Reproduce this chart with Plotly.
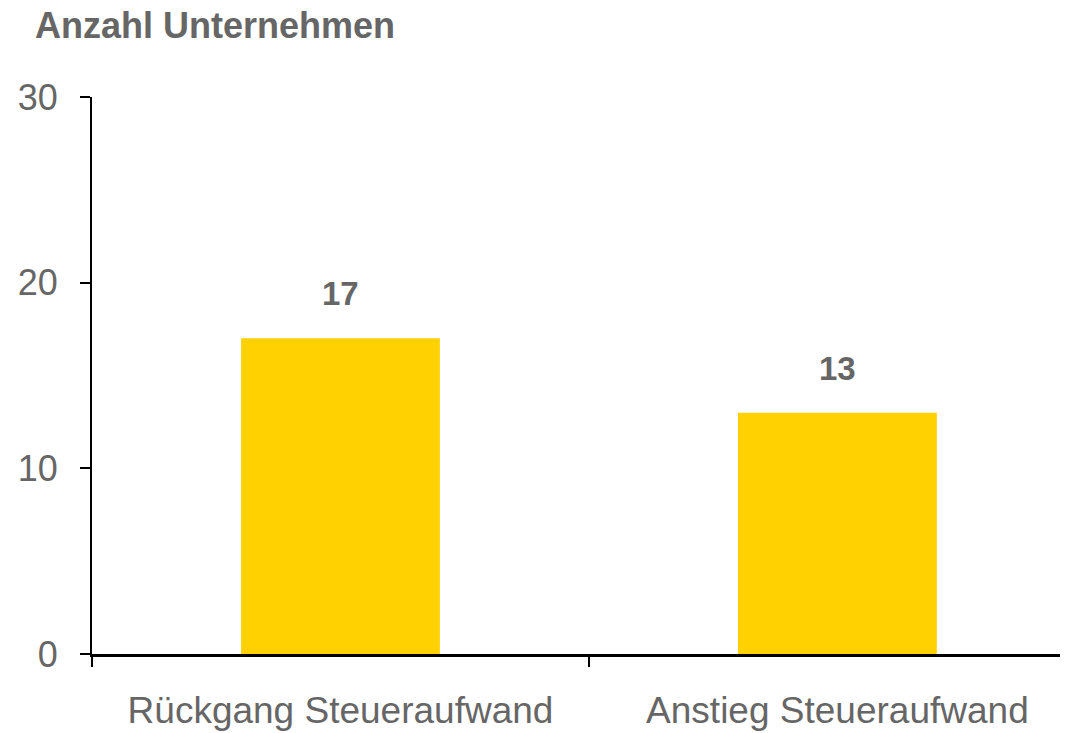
import plotly.graph_objects as go

categories = ["Rückgang Steueraufwand", "Anstieg Steueraufwand"]
values = [17, 13]
y_ticks = [0, 10, 20, 30]

TEXT = "#666666"
FONT = "Liberation Sans, Arial, sans-serif"

fig = go.Figure()
fig.add_trace(go.Bar(
    x=categories, y=values, width=0.4,
    marker=dict(color="#FFD100", line=dict(width=0)),
    hoverinfo="skip",
))

for c, v in zip(categories, values):
    fig.add_annotation(x=c, y=v, text=f"<b>{v}</b>", showarrow=False,
                       yanchor="bottom", yshift=24,
                       font=dict(size=33, color=TEXT, family=FONT))

fig.update_layout(
    width=1068, height=733,
    margin=dict(l=84, r=10, t=89, b=83),
    paper_bgcolor="white", plot_bgcolor="white",
    showlegend=False,
    font=dict(family=FONT, color=TEXT),
    title=dict(text="<b>Anzahl Unternehmen</b>", xref="container", yref="container",
               x=27/1068, xanchor="left", y=1-5/733, yanchor="top",
               font=dict(size=36, color=TEXT, family=FONT)),
)
fig.update_xaxes(
    type="category", range=[-0.5, 1.46],
    showline=True, linecolor="black", linewidth=3,
    ticks="outside", tickson="boundaries", ticklen=10, tickwidth=2, tickcolor="black",
    tickfont=dict(size=37, color=TEXT, family=FONT), ticklabelstandoff=22,
    showgrid=False, zeroline=False,
)
fig.update_yaxes(
    range=[0, 30], tickvals=y_ticks,
    showline=True, linecolor="black", linewidth=2,
    ticks="outside", ticklen=10, tickwidth=2, tickcolor="black",
    tickfont=dict(size=36, color=TEXT, family=FONT), ticklabelstandoff=15,
    showgrid=False, zeroline=False,
)

fig.write_html("out.html")
